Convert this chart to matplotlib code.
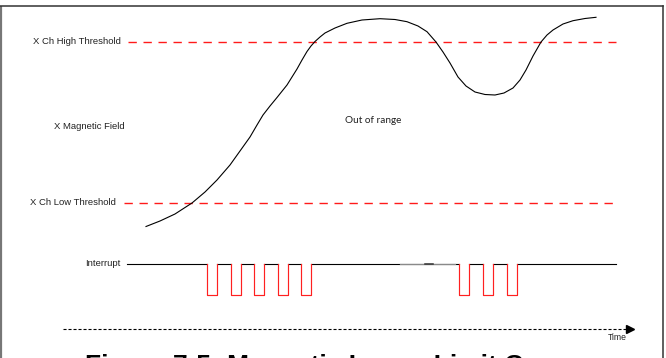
"""Magnetic lower limit timing diagram"""

import matplotlib.pyplot as plt

plt.rcParams['lines.scale_dashes'] = False

# field curve (time, level); level grows downward like the picture
field_t = [146, 160, 175, 192, 205, 217, 230, 240, 250, 257, 263, 270, 277, 287, 297, 302,
           307, 311, 315, 320, 325, 335, 347, 362, 380, 395, 407, 418, 427, 436, 443,
           450, 458, 466, 475, 485, 495, 504, 513, 520, 526, 533, 541, 547, 553, 563,
           573, 585, 596]
field_v = [226.5, 221, 214, 203, 192, 180, 165, 151, 137, 125, 115, 106, 97.5, 85, 69, 60,
           51.5, 46, 41.5, 37, 33, 28, 23.3, 20, 18.7, 19.5, 21.7, 26, 31.7, 42, 52,
           63, 77, 86, 92, 94.5, 95, 93, 88, 80, 70, 56, 42, 35, 30, 24,
           20.7, 18.5, 17.3]

high_threshold = 42
low_threshold = 203
high_start, low_start, line_end = 128, 124, 616

# interrupt signal
irq_start, irq_end = 127, 616
irq_high, irq_low = 264, 295
pulse_on = [207, 231, 254, 278, 301, 459, 483, 507]
pulse_off = [217, 241, 264, 288, 311, 469, 493, 517]
glitch = (400, 455)

time_start, time_end, time_level = 63, 628, 328.5

labels = {
    'X Ch High Threshold': (33, 41.5),
    'X Magnetic Field': (54, 126.7),
    'X Ch Low Threshold': (30, 202.7),
    'Interrupt': (85, 264),
}

fig = plt.figure(figsize=(6.66, 3.58), dpi=100)
ax = fig.add_axes([0, 0, 1, 1])
ax.set_xlim(0, 666)
ax.set_ylim(358, 0)
ax.axis('off')

# outer frame
ax.plot([0.8, 0.8], [6, 358], color='#777777', lw=1.6, solid_capstyle='butt')
ax.plot([0, 663], [6, 6], color='#333333', lw=1.1)
ax.plot([663, 663], [6, 358], color='#333333', lw=1.1)

# thresholds
for start, level in [(high_start, high_threshold), (low_start, low_threshold)]:
    ax.plot([start, line_end], [level, level], color='#ff1a1a', lw=1.0,
            dashes=(6, 4.8))

ax.plot(field_t, field_v, color='black', lw=0.8)

# interrupt line: black while high, red pulses
xs = [irq_start] + [v for pair in zip(pulse_on, pulse_off) for v in pair] + [irq_end]
for i in range(0, len(xs), 2):
    ax.plot([xs[i], xs[i + 1]], [irq_high, irq_high], color='black', lw=0.8)
ax.plot(glitch, [irq_high, irq_high], color='#8a8a8a', lw=0.9)
ax.plot([425, 433], [irq_high, irq_high], color='#333333', lw=1.1)
for a, b in zip(pulse_on, pulse_off):
    ax.plot([a, a, b, b], [irq_high, irq_low, irq_low, irq_high],
            color='#ff2020', lw=0.85)

# time axis
ax.plot([time_start, time_end], [time_level, time_level], color='black', lw=0.8,
        dashes=(2.2, 1.4))
ax.plot(time_end + 2, time_level, marker='>', ms=6, color='black', mec='black')
ax.text(608, 337.5, 'Time', fontsize=6.2, va='center', ha='left',
        family='Liberation Sans', color='#222222')

for txt, (x, y) in labels.items():
    ax.text(x, y, txt, fontsize=6.8, va='center', ha='left',
            family='Liberation Sans', color='#222222')

ax.text(345, 120.7, 'Out of range', fontsize=7.2, va='center', ha='left',
        family='Lato', color='#222222')

# caption, cut by the bottom edge as in the source
ax.text(85, 373, 'Figure 7-5: Magnetic Lower Limit C', fontsize=19,
        fontweight='bold', va='baseline', ha='left', family='Liberation Sans',
        color='black')

fig.savefig('out.png', dpi=100)
